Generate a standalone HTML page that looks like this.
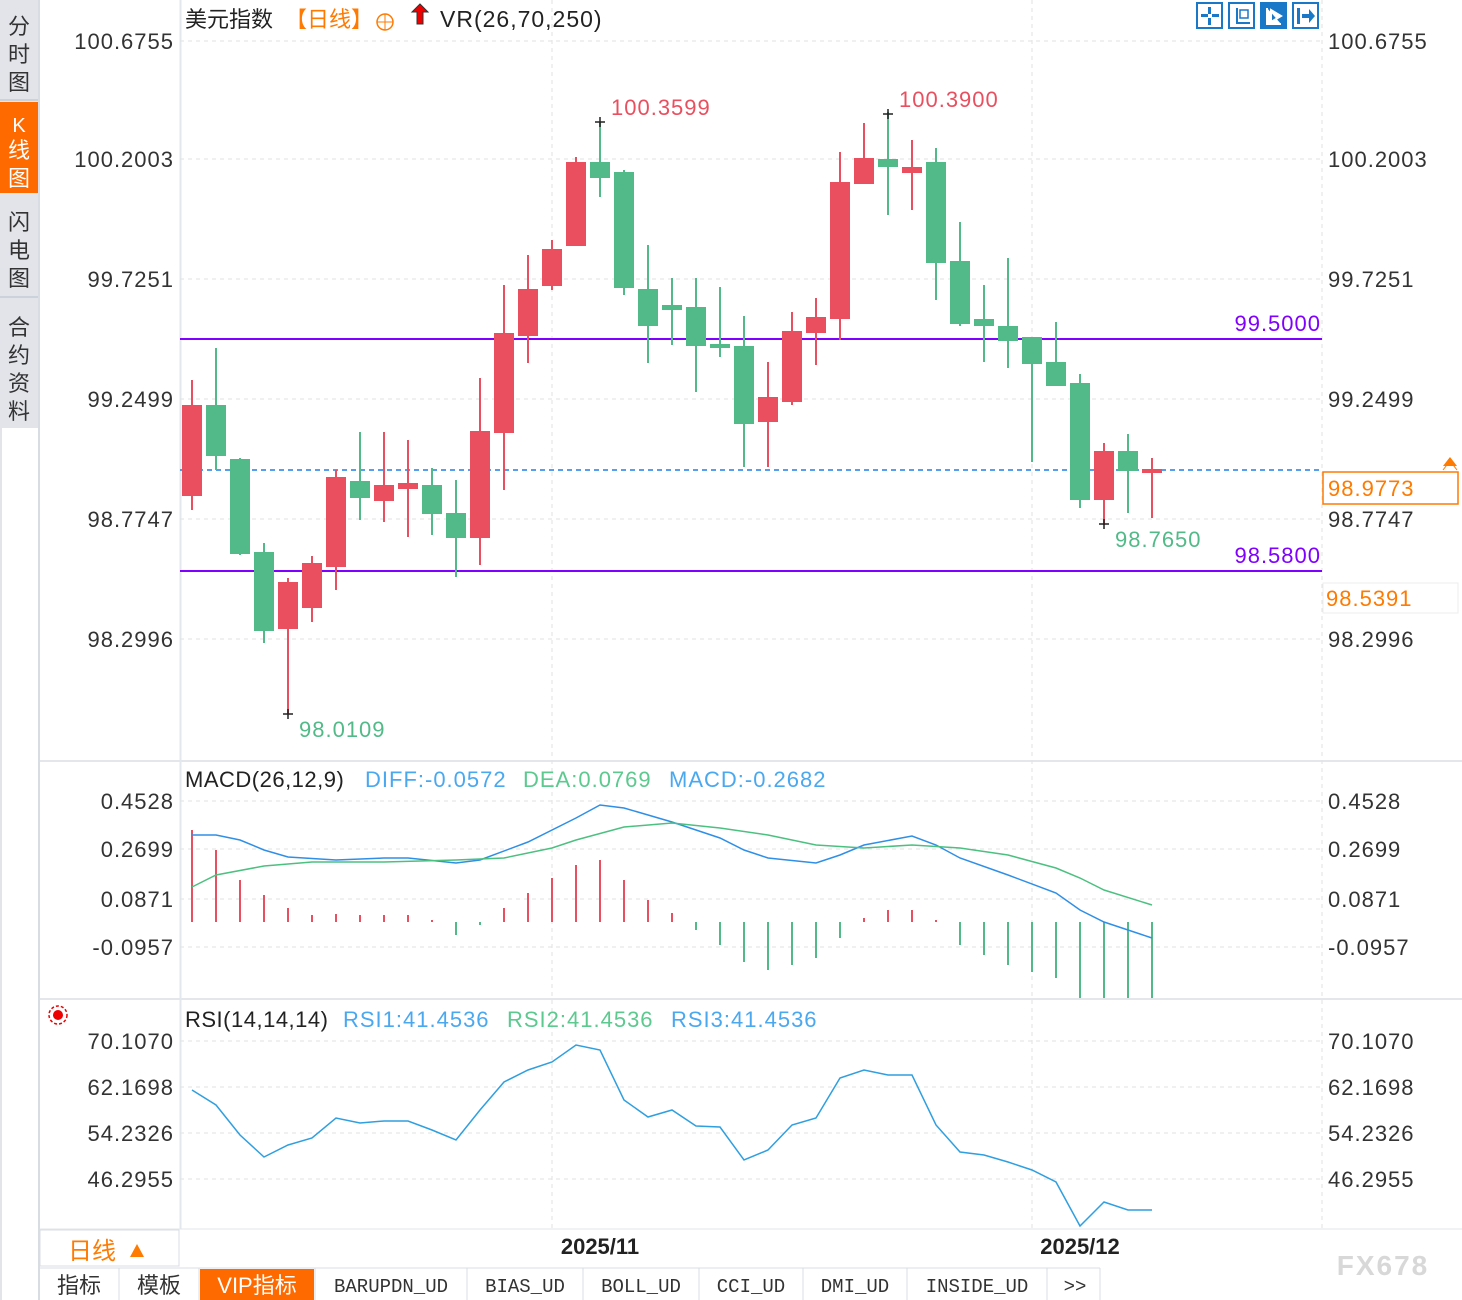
<!DOCTYPE html>
<html><head><meta charset="utf-8"><style>
body{margin:0;width:1462px;height:1300px;overflow:hidden;background:#fff;font-family:"Liberation Sans","Noto Sans CJK SC",sans-serif}
svg{position:absolute;left:0;top:0}
</style></head><body>
<svg width="1462" height="1300" viewBox="0 0 1462 1300" font-family="Liberation Sans, Noto Sans CJK SC, sans-serif" letter-spacing="1">
<!-- sidebar -->
<rect x="0" y="0" width="38" height="1300" fill="#e2e4ea"/>
<rect x="0" y="102" width="38" height="91" fill="#ff6a00"/>
<rect x="0" y="99" width="38" height="2" fill="#ccd2da"/>
<rect x="0" y="296" width="38" height="2" fill="#ccd2da"/>
<rect x="2" y="428" width="36" height="872" fill="#fff"/>
<rect x="38" y="0" width="2" height="1300" fill="#d8dde4"/>
<g font-size="22" fill="#333" text-anchor="middle" letter-spacing="0">
<text x="19" y="34">分</text><text x="19" y="62">时</text><text x="19" y="90">图</text>
<text x="19" y="132" fill="#fff" font-size="20">K</text><text x="19" y="158" fill="#fff">线</text><text x="19" y="186" fill="#fff">图</text>
<text x="19" y="230">闪</text><text x="19" y="258">电</text><text x="19" y="286">图</text>
<text x="19" y="335">合</text><text x="19" y="363">约</text><text x="19" y="391">资</text><text x="19" y="419">料</text>
</g>
<!-- panel separators -->
<line x1="40" y1="761" x2="1462" y2="761" stroke="#e3e6ea" stroke-width="2"/>
<line x1="40" y1="999" x2="1462" y2="999" stroke="#e3e6ea" stroke-width="2"/>
<line x1="40" y1="1229" x2="1462" y2="1229" stroke="#e3e6ea" stroke-width="1"/>
<line x1="180.5" y1="0" x2="180.5" y2="1229" stroke="#e3e8ef" stroke-width="2"/>
<!-- grid -->
<g stroke="#e2e2e2" stroke-dasharray="4,4">
<line x1="180" y1="41" x2="1322" y2="41"/><line x1="180" y1="159" x2="1322" y2="159"/><line x1="180" y1="279" x2="1322" y2="279"/><line x1="180" y1="399" x2="1322" y2="399"/><line x1="180" y1="519" x2="1322" y2="519"/><line x1="180" y1="639" x2="1322" y2="639"/>
<line x1="180" y1="801" x2="1322" y2="801"/><line x1="180" y1="849" x2="1322" y2="849"/><line x1="180" y1="899" x2="1322" y2="899"/><line x1="180" y1="947" x2="1322" y2="947"/>
<line x1="180" y1="1041" x2="1322" y2="1041"/><line x1="180" y1="1087" x2="1322" y2="1087"/><line x1="180" y1="1133" x2="1322" y2="1133"/><line x1="180" y1="1179" x2="1322" y2="1179"/>
<line x1="552" y1="0" x2="552" y2="1229"/><line x1="1032" y1="0" x2="1032" y2="1229"/>
<line x1="1322" y1="0" x2="1322" y2="1229"/>
</g>
<!-- axis labels -->
<g font-size="22" fill="#333" text-anchor="end">
<text x="174" y="49">100.6755</text><text x="174" y="167">100.2003</text><text x="174" y="287">99.7251</text><text x="174" y="407">99.2499</text><text x="174" y="527">98.7747</text><text x="174" y="647">98.2996</text>
<text x="174" y="809">0.4528</text><text x="174" y="857">0.2699</text><text x="174" y="907">0.0871</text><text x="174" y="955">-0.0957</text>
<text x="174" y="1049">70.1070</text><text x="174" y="1095">62.1698</text><text x="174" y="1141">54.2326</text><text x="174" y="1187">46.2955</text>
</g>
<g font-size="22" fill="#333">
<text x="1328" y="49">100.6755</text><text x="1328" y="167">100.2003</text><text x="1328" y="287">99.7251</text><text x="1328" y="407">99.2499</text><text x="1328" y="527">98.7747</text><text x="1328" y="647">98.2996</text>
<text x="1328" y="809">0.4528</text><text x="1328" y="857">0.2699</text><text x="1328" y="907">0.0871</text><text x="1328" y="955">-0.0957</text>
<text x="1328" y="1049">70.1070</text><text x="1328" y="1095">62.1698</text><text x="1328" y="1141">54.2326</text><text x="1328" y="1187">46.2955</text>
</g>
<!-- header -->
<text x="185" y="27" font-size="22" fill="#222" letter-spacing="0">美元指数</text>
<text x="285" y="27" font-size="22" fill="#ff7a00" letter-spacing="0">【日线】</text>
<circle cx="385" cy="22" r="8" fill="none" stroke="#ff7a00" stroke-width="1.5"/><line x1="377" y1="22" x2="393" y2="22" stroke="#ff7a00"/><line x1="385" y1="14" x2="385" y2="30" stroke="#ff7a00"/>
<path d="M420 4 L428 12 L423 12 L423 24 L417 24 L417 12 L412 12 Z" fill="#e00" stroke="#333" stroke-width="1"/>
<text x="440" y="27" font-size="23" fill="#222">VR(26,70,250)</text>
<g fill="none" stroke="#1a78c8" stroke-width="2">
<rect x="1197" y="3" width="25" height="25"/><rect x="1229" y="3" width="25" height="25"/><rect x="1261" y="3" width="25" height="25" fill="#1a78c8"/><rect x="1293" y="3" width="25" height="25"/>
</g>
<g fill="#1a78c8"><rect x="1201" y="14" width="7" height="3"/><rect x="1212" y="14" width="7" height="3"/><rect x="1208" y="7" width="3" height="7"/><rect x="1208" y="18" width="3" height="7"/>
<rect x="1236" y="8" width="2" height="16"/><rect x="1236" y="22" width="14" height="2"/><rect x="1240" y="10" width="8" height="8" fill="none" stroke="#1a78c8" stroke-width="1.5"/>
<rect x="1297" y="8" width="3" height="16"/><path d="M1302 14h7v-5l6 7-6 7v-5h-7z"/></g>
<path d="M1267 8v16h14M1271 10l10 6-10 6z" fill="#fff" stroke="#fff" stroke-width="2"/>
<!-- horizontal lines -->
<line x1="180" y1="339" x2="1322" y2="339" stroke="#8000ff" stroke-width="2"/>
<line x1="180" y1="571" x2="1322" y2="571" stroke="#8000ff" stroke-width="2"/>
<text x="1321" y="331" font-size="22" fill="#8000ff" text-anchor="end">99.5000</text>
<text x="1321" y="563" font-size="22" fill="#8000ff" text-anchor="end">98.5800</text>
<line x1="180" y1="470" x2="1322" y2="470" stroke="#1e7ee8" stroke-width="1.5" stroke-dasharray="5,4"/>
<rect x="1323" y="472" width="135" height="32" fill="#fff" stroke="#ff7a00" stroke-width="1.5"/>
<text x="1328" y="496" font-size="22" fill="#ff7a00">98.9773</text>
<path d="M1443 466 L1450 457 L1457 466 Z" fill="#ff7a00"/><path d="M1443 470 L1450 461 L1457 470" fill="none" stroke="#ff7a00"/>
<rect x="1323" y="583" width="135" height="30" fill="#fff" stroke="#eee"/>
<text x="1326" y="606" font-size="22" fill="#ff7a00">98.5391</text>
<!-- candles -->
<g stroke-width="2">
<g stroke="#e94f5e" fill="#e94f5e">
<line x1="192" y1="380" x2="192" y2="510"/><rect x="183" y="406" width="18" height="89"/>
<line x1="288" y1="578" x2="288" y2="714"/><rect x="279" y="583" width="18" height="45"/>
<line x1="312" y1="556" x2="312" y2="622"/><rect x="303" y="564" width="18" height="43"/>
<line x1="336" y1="470" x2="336" y2="590"/><rect x="327" y="478" width="18" height="88"/>
<line x1="384" y1="432" x2="384" y2="522"/><rect x="375" y="486" width="18" height="14"/>
<line x1="408" y1="440" x2="408" y2="537"/><rect x="399" y="484" width="18" height="4"/>
<line x1="480" y1="378" x2="480" y2="565"/><rect x="471" y="432" width="18" height="105"/>
<line x1="504" y1="285" x2="504" y2="490"/><rect x="495" y="334" width="18" height="98"/>
<line x1="528" y1="255" x2="528" y2="363"/><rect x="519" y="290" width="18" height="45"/>
<line x1="552" y1="240" x2="552" y2="290"/><rect x="543" y="250" width="18" height="35"/>
<line x1="576" y1="157" x2="576" y2="245"/><rect x="567" y="163" width="18" height="82"/>
<line x1="768" y1="362" x2="768" y2="467"/><rect x="759" y="398" width="18" height="23"/>
<line x1="792" y1="312" x2="792" y2="405"/><rect x="783" y="332" width="18" height="69"/>
<line x1="816" y1="298" x2="816" y2="365"/><rect x="807" y="318" width="18" height="14"/>
<line x1="840" y1="152" x2="840" y2="340"/><rect x="831" y="183" width="18" height="135"/>
<line x1="864" y1="123" x2="864" y2="183"/><rect x="855" y="159" width="18" height="24"/>
<line x1="912" y1="140" x2="912" y2="210"/><rect x="903" y="168" width="18" height="4"/>
<line x1="1104" y1="443" x2="1104" y2="525"/><rect x="1095" y="452" width="18" height="47"/>
<line x1="1152" y1="458" x2="1152" y2="518"/><rect x="1143" y="470" width="18" height="2"/>
</g>
<g stroke="#52ba88" fill="#52ba88">
<line x1="216" y1="348" x2="216" y2="470"/><rect x="207" y="406" width="18" height="49"/>
<line x1="240" y1="458" x2="240" y2="555"/><rect x="231" y="460" width="18" height="93"/>
<line x1="264" y1="543" x2="264" y2="643"/><rect x="255" y="553" width="18" height="77"/>
<line x1="360" y1="432" x2="360" y2="520"/><rect x="351" y="482" width="18" height="15"/>
<line x1="432" y1="468" x2="432" y2="535"/><rect x="423" y="486" width="18" height="27"/>
<line x1="456" y1="480" x2="456" y2="577"/><rect x="447" y="514" width="18" height="23"/>
<line x1="600" y1="122" x2="600" y2="197"/><rect x="591" y="163" width="18" height="14"/>
<line x1="624" y1="170" x2="624" y2="295"/><rect x="615" y="173" width="18" height="114"/>
<line x1="648" y1="245" x2="648" y2="363"/><rect x="639" y="290" width="18" height="35"/>
<line x1="672" y1="278" x2="672" y2="345"/><rect x="663" y="306" width="18" height="3"/>
<line x1="696" y1="278" x2="696" y2="392"/><rect x="687" y="308" width="18" height="37"/>
<line x1="720" y1="287" x2="720" y2="357"/><rect x="711" y="345" width="18" height="2"/>
<line x1="744" y1="316" x2="744" y2="467"/><rect x="735" y="347" width="18" height="76"/>
<line x1="888" y1="112" x2="888" y2="215"/><rect x="879" y="160" width="18" height="6"/>
<line x1="936" y1="148" x2="936" y2="300"/><rect x="927" y="163" width="18" height="99"/>
<line x1="960" y1="222" x2="960" y2="326"/><rect x="951" y="262" width="18" height="61"/>
<line x1="984" y1="285" x2="984" y2="362"/><rect x="975" y="320" width="18" height="5"/>
<line x1="1008" y1="258" x2="1008" y2="368"/><rect x="999" y="327" width="18" height="13"/>
<line x1="1032" y1="338" x2="1032" y2="462"/><rect x="1023" y="338" width="18" height="25"/>
<line x1="1056" y1="322" x2="1056" y2="385"/><rect x="1047" y="363" width="18" height="22"/>
<line x1="1080" y1="374" x2="1080" y2="508"/><rect x="1071" y="384" width="18" height="115"/>
<line x1="1128" y1="434" x2="1128" y2="513"/><rect x="1119" y="452" width="18" height="18"/>
</g>
</g>
<!-- markers -->
<g stroke="#222" stroke-width="1.5">
<path d="M595 122h10M600 117v10"/><path d="M883 114h10M888 109v10"/><path d="M283 714h10M288 709v10"/><path d="M1099 524h10M1104 519v10"/>
</g>
<text x="611" y="115" font-size="22" fill="#e94f5e">100.3599</text>
<text x="899" y="107" font-size="22" fill="#e94f5e">100.3900</text>
<text x="299" y="737" font-size="22" fill="#52ba88">98.0109</text>
<text x="1115" y="547" font-size="22" fill="#52ba88">98.7650</text>
<!-- MACD -->
<text x="185" y="787" font-size="22" fill="#222" letter-spacing="0.5">MACD(26,12,9)</text>
<text x="365" y="787" font-size="22" fill="#4aa8f0">DIFF:-0.0572</text>
<text x="523" y="787" font-size="22" fill="#5cc98f">DEA:0.0769</text>
<text x="669" y="787" font-size="22" fill="#4aa8f0">MACD:-0.2682</text>
<g stroke-width="2" stroke="#e94f5e">
<line x1="192" y1="922" x2="192" y2="830"/><line x1="216" y1="922" x2="216" y2="850"/><line x1="240" y1="922" x2="240" y2="880"/><line x1="264" y1="922" x2="264" y2="895"/><line x1="288" y1="922" x2="288" y2="908"/><line x1="312" y1="922" x2="312" y2="915"/><line x1="336" y1="922" x2="336" y2="914"/><line x1="360" y1="922" x2="360" y2="915"/><line x1="384" y1="922" x2="384" y2="915"/><line x1="408" y1="922" x2="408" y2="915"/><line x1="432" y1="922" x2="432" y2="920"/>
<line x1="504" y1="922" x2="504" y2="908"/><line x1="528" y1="922" x2="528" y2="893"/><line x1="552" y1="922" x2="552" y2="878"/><line x1="576" y1="922" x2="576" y2="865"/><line x1="600" y1="922" x2="600" y2="860"/><line x1="624" y1="922" x2="624" y2="880"/><line x1="648" y1="922" x2="648" y2="900"/><line x1="672" y1="922" x2="672" y2="913"/>
<line x1="864" y1="922" x2="864" y2="918"/><line x1="888" y1="922" x2="888" y2="910"/><line x1="912" y1="922" x2="912" y2="910"/><line x1="936" y1="922" x2="936" y2="920"/>
</g>
<g stroke-width="2" stroke="#52ba88">
<line x1="456" y1="922" x2="456" y2="935"/><line x1="480" y1="922" x2="480" y2="925"/>
<line x1="696" y1="922" x2="696" y2="930"/><line x1="720" y1="922" x2="720" y2="945"/><line x1="744" y1="922" x2="744" y2="962"/><line x1="768" y1="922" x2="768" y2="970"/><line x1="792" y1="922" x2="792" y2="965"/><line x1="816" y1="922" x2="816" y2="958"/><line x1="840" y1="922" x2="840" y2="938"/>
<line x1="960" y1="922" x2="960" y2="945"/><line x1="984" y1="922" x2="984" y2="955"/><line x1="1008" y1="922" x2="1008" y2="965"/><line x1="1032" y1="922" x2="1032" y2="972"/><line x1="1056" y1="922" x2="1056" y2="978"/><line x1="1080" y1="922" x2="1080" y2="998"/><line x1="1104" y1="922" x2="1104" y2="998"/><line x1="1128" y1="922" x2="1128" y2="998"/><line x1="1152" y1="922" x2="1152" y2="998"/>
</g>
<polyline fill="none" stroke="#2f8fe6" stroke-width="1.5" points="192,835 216,835 240,840 264,850 288,857 336,860 384,858 408,858 456,863 480,860 528,842 576,818 600,805 624,808 672,822 720,838 744,850 768,858 816,863 840,855 864,845 912,836 936,845 960,858 1008,875 1056,893 1080,910 1104,922 1152,938"/>
<polyline fill="none" stroke="#4cc080" stroke-width="1.5" points="192,887 216,875 264,866 312,862 384,862 456,860 504,858 552,848 576,840 624,827 672,823 720,828 768,835 816,845 864,848 912,845 960,848 1008,855 1056,868 1080,878 1104,890 1152,905"/>
<!-- RSI -->
<circle cx="58" cy="1015" r="5" fill="#e00"/><circle cx="58" cy="1015" r="9" fill="none" stroke="#e00" stroke-width="1.5" stroke-dasharray="3,2"/>
<text x="185" y="1027" font-size="22" fill="#222" letter-spacing="0.5">RSI(14,14,14)</text>
<text x="343" y="1027" font-size="22" fill="#4aa8f0">RSI1:41.4536</text>
<text x="507" y="1027" font-size="22" fill="#5cc98f">RSI2:41.4536</text>
<text x="671" y="1027" font-size="22" fill="#4aa8f0">RSI3:41.4536</text>
<polyline fill="none" stroke="#2f9fe0" stroke-width="1.5" points="192,1090 216,1105 240,1135 264,1157 288,1145 312,1138 336,1118 360,1123 384,1121 408,1121 432,1130 456,1140 480,1110 504,1082 528,1070 552,1062 576,1045 600,1050 624,1100 648,1117 672,1110 696,1126 720,1127 744,1160 768,1150 792,1125 816,1118 840,1078 864,1070 888,1075 912,1075 936,1125 960,1152 984,1155 1008,1162 1032,1170 1056,1182 1080,1226 1104,1202 1128,1210 1152,1210"/>
<!-- date axis -->
<rect x="40" y="1230" width="139" height="36" fill="#fff" stroke="#d8dde4"/>
<text x="68" y="1259" font-size="24" fill="#ff7a00" letter-spacing="0">日线</text><path d="M130 1257 L137 1244 L144 1257 Z" fill="#ff7a00"/>
<text x="600" y="1254" font-size="22" fill="#222" font-weight="bold" text-anchor="middle" letter-spacing="0">2025/11</text>
<text x="1080" y="1254" font-size="22" fill="#222" font-weight="bold" text-anchor="middle" letter-spacing="0">2025/12</text>
<!-- tabs -->
<rect x="40" y="1268" width="1422" height="32" fill="#fff"/>
<line x1="40" y1="1268" x2="1100" y2="1268" stroke="#d8dde4"/>
<rect x="200" y="1269" width="114" height="31" fill="#ff6a00"/>
<g stroke="#d8dde4"><line x1="119" y1="1268" x2="119" y2="1300"/><line x1="199" y1="1268" x2="199" y2="1300"/><line x1="315" y1="1268" x2="315" y2="1300"/><line x1="467" y1="1268" x2="467" y2="1300"/><line x1="583" y1="1268" x2="583" y2="1300"/><line x1="699" y1="1268" x2="699" y2="1300"/><line x1="803" y1="1268" x2="803" y2="1300"/><line x1="907" y1="1268" x2="907" y2="1300"/><line x1="1047" y1="1268" x2="1047" y2="1300"/><line x1="1100" y1="1268" x2="1100" y2="1300"/></g>
<g font-size="22" fill="#333" text-anchor="middle" letter-spacing="0">
<text x="79" y="1293">指标</text><text x="159" y="1293">模板</text><text x="257" y="1293" fill="#fff">VIP指标</text>
<g font-family="Liberation Mono, monospace" font-size="19"><text x="391" y="1292">BARUPDN_UD</text><text x="525" y="1292">BIAS_UD</text><text x="641" y="1292">BOLL_UD</text><text x="751" y="1292">CCI_UD</text><text x="855" y="1292">DMI_UD</text><text x="977" y="1292">INSIDE_UD</text><text x="1075" y="1292">&gt;&gt;</text></g>
</g>
<text x="1383" y="1275" font-size="28" fill="#d8d8d8" font-weight="bold" text-anchor="middle" letter-spacing="2">FX678</text>
</svg>
</body></html>
